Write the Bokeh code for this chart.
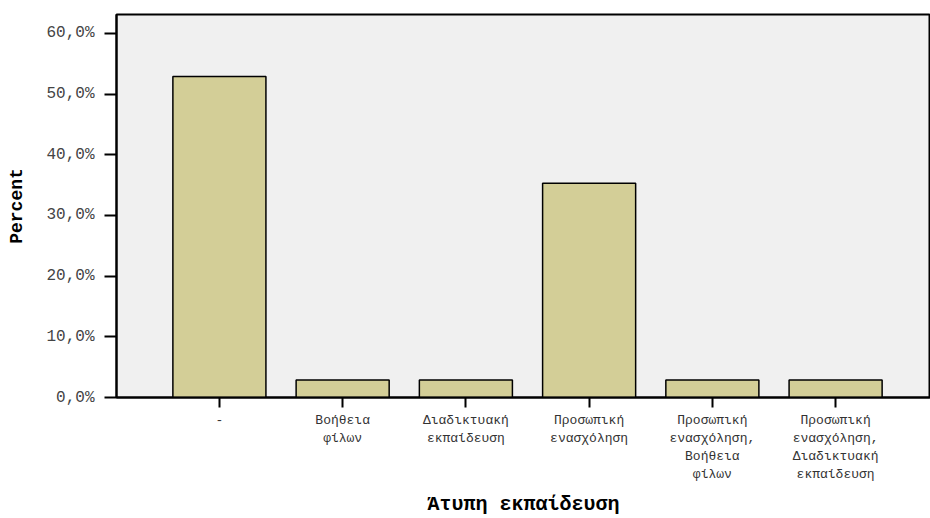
from bokeh.plotting import figure
from bokeh.models import Range1d, FixedTicker, ColumnDataSource
from bokeh.embed import file_html
from bokeh.resources import INLINE

categories = ["-", "Βοήθεια\nφίλων", "Διαδικτυακή\nεκπαίδευση", "Προσωπική\nενασχόληση",
              "Προσωπική\nενασχόληση,\nΒοήθεια\nφίλων",
              "Προσωπική\nενασχόληση,\nΔιαδικτυακή\nεκπαίδευση"]
percent = [52.9, 2.9, 2.9, 35.3, 2.9, 2.9]
y_ticks = [0, 10, 20, 30, 40, 50, 60]
y_tick_labels = ["0,0%", "10,0%", "20,0%", "30,0%", "40,0%", "50,0%", "60,0%"]

xs = list(range(len(categories)))
src = ColumnDataSource(dict(x=xs, top=percent))

FONT = "Liberation Mono"

p = figure(width=930, height=518, output_backend="svg", toolbar_location=None,
           x_range=Range1d(-0.835, 5.77), y_range=Range1d(0, 63.1),
           min_border_left=116, min_border_top=14, min_border_bottom=120, min_border_right=0)
p.background_fill_color = "#f0f0f0"
p.border_fill_color = "white"
p.outline_line_color = "black"
p.outline_line_width = 2
p.xgrid.visible = False
p.ygrid.visible = False

p.vbar(x="x", top="top", width=0.755, bottom=0, source=src,
       fill_color="#d3ce97", line_color="black", line_width=1.5)

# x axis
p.xaxis.ticker = FixedTicker(ticks=xs)
p.xaxis.major_label_overrides = {i: c for i, c in zip(xs, categories)}
p.xaxis.axis_label = "Άτυπη εκπαίδευση"
p.xaxis.axis_label_text_font = FONT
p.xaxis.axis_label_text_font_style = "bold"
p.xaxis.axis_label_text_font_size = "20px"
p.xaxis.axis_label_text_color = "black"
p.xaxis.axis_label_standoff = 8
p.xaxis.major_label_text_font = FONT
p.xaxis.major_label_text_font_size = "13px"
p.xaxis.major_label_text_color = "#333333"
p.xaxis.major_label_standoff = 5
p.xaxis.major_tick_out = 10
p.xaxis.major_tick_in = 0
p.xaxis.minor_tick_line_color = None
p.xaxis.axis_line_width = 2
p.xaxis.major_tick_line_width = 2
p.xaxis.axis_line_color = "black"
p.xaxis.major_tick_line_color = "black"

# y axis
p.yaxis.ticker = FixedTicker(ticks=y_ticks)
p.yaxis.major_label_overrides = {t: l for t, l in zip(y_ticks, y_tick_labels)}
p.yaxis.axis_label = "Percent"
p.yaxis.axis_label_text_font = FONT
p.yaxis.axis_label_text_font_style = "bold"
p.yaxis.axis_label_text_font_size = "18px"
p.yaxis.axis_label_text_color = "black"
p.yaxis.axis_label_standoff = 16
p.yaxis.major_label_text_font = FONT
p.yaxis.major_label_text_font_size = "16px"
p.yaxis.major_label_text_color = "#444444"
p.yaxis.major_label_standoff = 10
p.yaxis.major_tick_out = 12
p.yaxis.major_tick_in = 0
p.yaxis.minor_tick_line_color = None
p.yaxis.axis_line_width = 2
p.yaxis.major_tick_line_width = 2
p.yaxis.axis_line_color = "black"
p.yaxis.major_tick_line_color = "black"

open("out.html", "w").write(file_html(p, INLINE))
